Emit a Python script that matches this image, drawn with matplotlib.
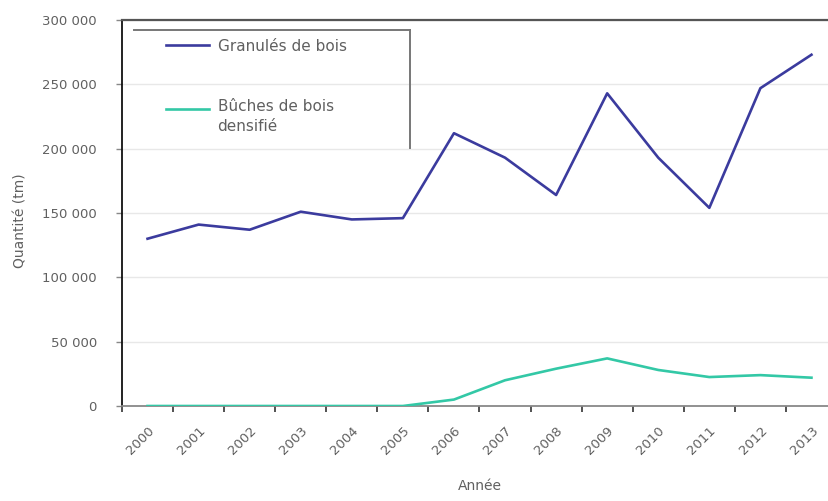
import numpy as np
import matplotlib.pyplot as plt
from matplotlib.lines import Line2D
from matplotlib.ticker import FuncFormatter, MultipleLocator

years = ['2000', '2001', '2002', '2003', '2004', '2005', '2006',
         '2007', '2008', '2009', '2010', '2011', '2012', '2013']
granules = [130000, 141000, 137000, 151000, 145000, 146000, 212000,
            193000, 164000, 243000, 193000, 154000, 247000, 273000]
buches = [0, 0, 0, 0, 0, 0, 5000,
          20000, 29000, 37000, 28000, 22500, 24000, 22000]

txt = '#606060'

fig = plt.figure(figsize=(8.29, 5.01), dpi=100)
ax = fig.add_axes([122 / 829, 95 / 501, 715 / 829, 386 / 501])

x = np.arange(len(years))
ax.plot(x, granules, color='#3b3b9e', lw=1.9, label='Granulés de bois', zorder=3)
ax.plot(x, buches, color='#33c8a6', lw=1.9, label='Bûches de bois\ndensifié', zorder=3)

ax.set_xlim(-0.5, len(years) - 0.5)
ax.set_ylim(0, 300000)

# y axis
ax.yaxis.set_major_locator(MultipleLocator(50000))
ax.yaxis.set_major_formatter(FuncFormatter(lambda v, p: f'{int(v):,}'.replace(',', ' ')))
ax.tick_params(axis='y', direction='out', length=4, width=1, color='#888888',
               labelsize=9.5, labelcolor=txt, pad=14)
ax.grid(axis='y', color='#e8e8e8', lw=1, zorder=0)

# x axis: labels at category centres, tick marks between categories
ax.set_xticks(x)
ax.set_xticklabels(years, rotation=45, ha='right', rotation_mode='anchor')
ax.set_xticks(np.arange(-0.5, len(years)), minor=True)
ax.tick_params(axis='x', which='major', length=0, labelsize=9.5, labelcolor=txt, pad=13)
ax.tick_params(axis='x', which='minor', direction='out', length=4, width=1.2, color='#333333')

ax.spines['right'].set_visible(False)
ax.spines['top'].set_color('#555555')
ax.spines['top'].set_linewidth(1.6)
ax.spines['left'].set_color('#111111')
ax.spines['left'].set_linewidth(1.3)
ax.spines['bottom'].set_color('#888888')
ax.spines['bottom'].set_linewidth(1.3)

ax.set_xlabel('Année', fontsize=10, color=txt, labelpad=16)
ax.set_ylabel('Quantité (tm)', fontsize=10, color=txt)
ax.yaxis.set_label_coords(-0.132, 0.48)

leg = ax.legend(loc='upper left', bbox_to_anchor=(0.062, 0.952), frameon=False,
                borderaxespad=0, borderpad=0, fontsize=11, handlelength=2.8,
                handletextpad=0.55, labelspacing=3.0)
for t in leg.get_texts():
    t.set_color(txt)
    t.set_linespacing(1.35)
# align the second handle with the first line of its label
h = leg.legend_handles[1]
h.set_ydata(np.asarray(h.get_ydata()) + 6)

# partial legend frame (top and right edges only)
ax.add_line(Line2D([0.017, 0.403], [0.974, 0.974], transform=ax.transAxes,
                   color='#777777', lw=1.4, clip_on=False))
ax.add_line(Line2D([0.403, 0.403], [0.974, 0.668], transform=ax.transAxes,
                   color='#777777', lw=1.4, clip_on=False))

fig.savefig('out.png', dpi=100)
